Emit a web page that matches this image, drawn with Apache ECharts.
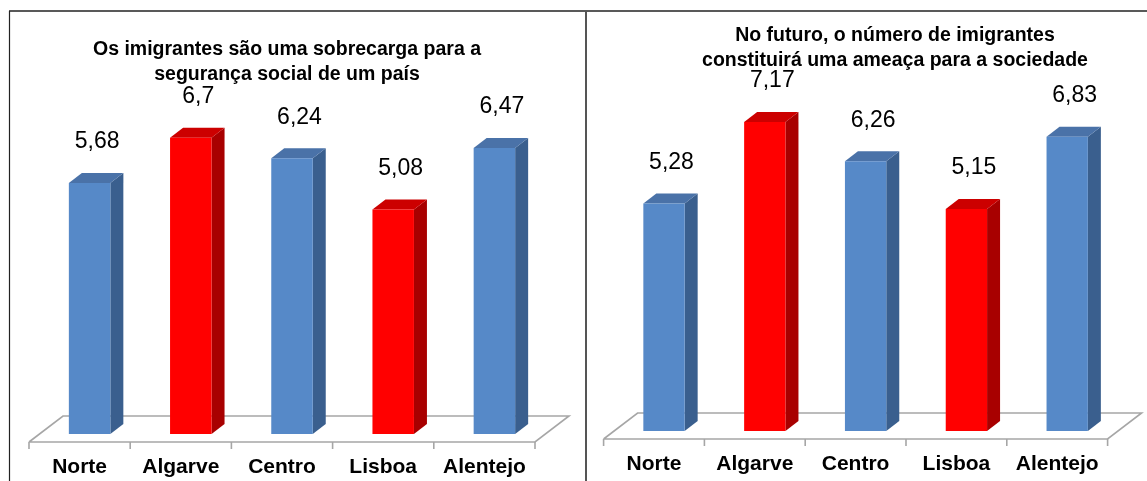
<!DOCTYPE html>
<html><head><meta charset="utf-8">
<script src="https://cdn.jsdelivr.net/npm/echarts@6/dist/echarts.min.js"></script>
<style>html,body{margin:0;padding:0;background:#fff}#c{width:1147px;height:481px}</style>
</head><body><div id="c"></div>
<script>
const categories = ['Norte', 'Algarve', 'Centro', 'Lisboa', 'Alentejo'];
const valuesLeft = [5.68, 6.7, 6.24, 5.08, 6.47];
const valuesRight = [5.28, 7.17, 6.26, 5.15, 6.83];
const highlighted = ['Algarve', 'Lisboa'];
const titleLeft = 'Os imigrantes são uma sobrecarga para a\nsegurança social de um país';
const titleRight = 'No futuro, o número de imigrantes\nconstituirá uma ameaça para a sociedade';

const FONT = '"Liberation Sans", Arial, sans-serif';
const DX = 13, DY = -10;
const BLUE = {front: '#5689c8', side: '#3a5f8e', top: '#4a72a8'};
const RED = {front: '#ff0000', side: '#a80000', top: '#cc0000'};

function fmt(v) { return String(v).replace('.', ','); }

function barItem(params, api) {
  const i = api.value(0), v = api.value(1);
  const top = api.coord([i, v]);
  const base = api.coord([i, 0]);
  const bw = api.size([1, 0])[0] * 0.41;
  const x0 = top[0] - bw / 2, x1 = top[0] + bw / 2;
  const c = highlighted.indexOf(categories[i]) >= 0 ? RED : BLUE;
  return {type: 'group', children: [
    {type: 'polygon', shape: {points: [[x1, top[1]], [x1 + DX, top[1] + DY], [x1 + DX, base[1] + DY], [x1, base[1]]]}, style: {fill: c.side}},
    {type: 'polygon', shape: {points: [[x0, top[1]], [x0 + DX, top[1] + DY], [x1 + DX, top[1] + DY], [x1, top[1]]]}, style: {fill: c.top}},
    {type: 'rect', shape: {x: x0, y: top[1], width: bw, height: base[1] - top[1]}, style: {fill: c.front}},
    {type: 'text', x: top[0] + DX / 2 + 1, y: top[1] - 41, style: {text: fmt(v), fill: '#000', font: '23px ' + FONT, align: 'center', verticalAlign: 'middle'}}
  ]};
}

function floorItem(params, api) {
  const cs = params.coordSys;
  const yF = cs.y + cs.height + 8;
  const xa = cs.x - 10, xb = cs.x + cs.width - 10;
  const bx = 34, by = -26;
  const stroke = {stroke: '#a6a6a6', lineWidth: 1.6, fill: 'none'};
  const ch = [
    {type: 'polyline', shape: {points: [[xa, yF], [xa + bx, yF + by], [xb + bx, yF + by], [xb, yF], [xa, yF]]}, style: stroke}
  ];
  const step = cs.width / categories.length;
  for (let j = 0; j <= categories.length; j++) {
    const x = xa + j * step;
    ch.push({type: 'line', shape: {x1: x, y1: yF, x2: x, y2: yF + 7}, style: {stroke: '#a6a6a6', lineWidth: 1.6}});
  }
  categories.forEach((name, j) => {
    const p = api.coord([j, 0]);
    ch.push({type: 'text', x: p[0] - 10, y: yF + 25, style: {text: name, fill: '#000', font: 'bold 21px ' + FONT, align: 'center', verticalAlign: 'middle'}});
  });
  return {type: 'group', children: ch};
}

const chart = echarts.init(document.getElementById('c'), null, {renderer: 'canvas'});
chart.setOption({
  animation: false,
  backgroundColor: '#fff',
  title: [
    {text: titleLeft, left: 282, top: 32, textAlign: 'center', textStyle: {fontFamily: FONT, fontSize: 19.5, fontWeight: 'bold', color: '#000', lineHeight: 25}},
    {text: titleRight, left: 890, top: 18, textAlign: 'center', textStyle: {fontFamily: FONT, fontSize: 19.5, fontWeight: 'bold', color: '#000', lineHeight: 25}}
  ],
  grid: [
    {left: 39, top: 80.4, width: 506, height: 353.6},
    {left: 613.6, top: 86.2, width: 504, height: 344.8}
  ],
  xAxis: [
    {gridIndex: 0, type: 'category', data: categories, show: false},
    {gridIndex: 1, type: 'category', data: categories, show: false}
  ],
  yAxis: [
    {gridIndex: 0, type: 'value', min: 0, max: 8, show: false},
    {gridIndex: 1, type: 'value', min: 0, max: 8, show: false}
  ],
  graphic: [
    {type: 'line', shape: {x1: 9, y1: 11, x2: 1147, y2: 11}, style: {stroke: '#222', lineWidth: 1.5}},
    {type: 'line', shape: {x1: 9.5, y1: 11, x2: 9.5, y2: 481}, style: {stroke: '#222', lineWidth: 1.2}},
    {type: 'line', shape: {x1: 586, y1: 11, x2: 586, y2: 481}, style: {stroke: '#555', lineWidth: 2}}
  ],
  series: [
    {type: 'custom', xAxisIndex: 0, yAxisIndex: 0, z: 1, data: [[0, 0]], renderItem: floorItem, silent: true},
    {type: 'custom', xAxisIndex: 1, yAxisIndex: 1, z: 1, data: [[0, 0]], renderItem: floorItem, silent: true},
    {type: 'custom', xAxisIndex: 0, yAxisIndex: 0, z: 2, data: valuesLeft.map((v, i) => [i, v]), renderItem: barItem, encode: {x: 0, y: 1}},
    {type: 'custom', xAxisIndex: 1, yAxisIndex: 1, z: 2, data: valuesRight.map((v, i) => [i, v]), renderItem: barItem, encode: {x: 0, y: 1}}
  ]
});
</script></body></html>
